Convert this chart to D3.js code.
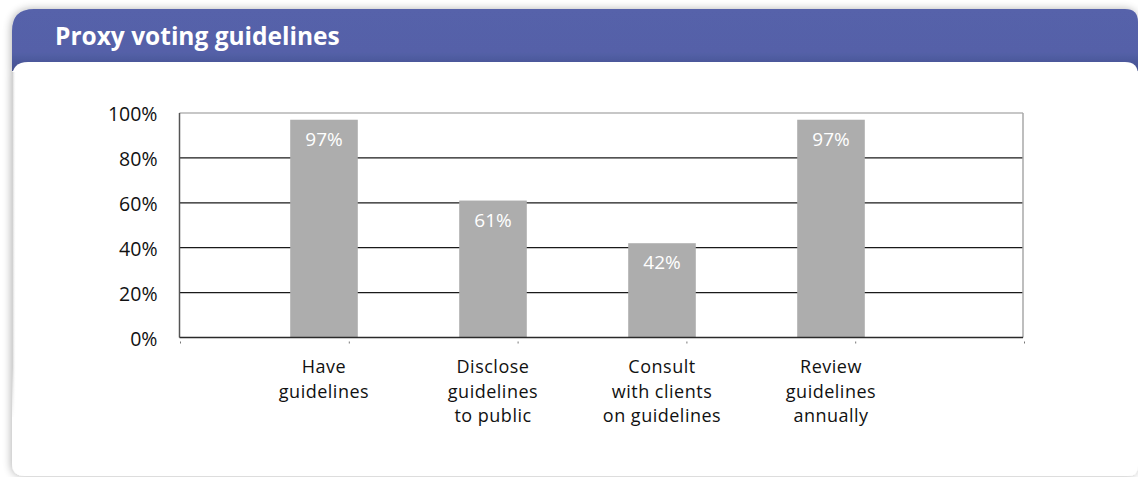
<!DOCTYPE html>
<html>
<head>
<meta charset="utf-8">
<script src="https://cdn.jsdelivr.net/npm/d3@7"></script>
<style>
  html, body { margin: 0; padding: 0; background: #ffffff; }
  svg { display: block; }
</style>
</head>
<body>
<svg id="chart" width="1138" height="477"></svg>
<script>
// Survey answers on proxy voting guidelines
const categories = [
  ["Have", "guidelines"],
  ["Disclose", "guidelines", "to public"],
  ["Consult", "with clients", "on guidelines"],
  ["Review", "guidelines", "annually"]
];
const values = [97, 61, 42, 97];
const yTicks = [0, 20, 40, 60, 80, 100];
const title = "Proxy voting guidelines";

const svg = d3.select("#chart");
const font = "'Open Sans', 'Noto Sans', sans-serif";

const defs = svg.append("defs");

// soft shadow around the card
const shadow = defs.append("filter").attr("id", "cardShadow")
  .attr("x", "-5%").attr("y", "-10%").attr("width", "110%").attr("height", "120%");
shadow.append("feGaussianBlur").attr("in", "SourceAlpha").attr("stdDeviation", 4);
shadow.append("feOffset").attr("dx", -1).attr("dy", 0).attr("result", "b");
shadow.append("feComponentTransfer").append("feFuncA").attr("type", "linear").attr("slope", 0.3);
const merge = shadow.append("feMerge");
merge.append("feMergeNode");
merge.append("feMergeNode").attr("in", "SourceGraphic");

// header band shading
const hg = defs.append("linearGradient").attr("id", "headGrad")
  .attr("x1", 0).attr("y1", 0).attr("x2", 0).attr("y2", 1);
hg.append("stop").attr("offset", "0%").attr("stop-color", "#5662aa");
hg.append("stop").attr("offset", "70%").attr("stop-color", "#5461a8");
hg.append("stop").attr("offset", "100%").attr("stop-color", "#444f8e");

// inner shade along the left edge of the panel
const lg = defs.append("linearGradient").attr("id", "leftShade")
  .attr("x1", 0).attr("y1", 0).attr("x2", 1).attr("y2", 0);
lg.append("stop").attr("offset", "0%").attr("stop-color", "#c4c4c4");
lg.append("stop").attr("offset", "100%").attr("stop-color", "#ffffff").attr("stop-opacity", 0);
const lgv = defs.append("linearGradient").attr("id", "leftFade")
  .attr("x1", 0).attr("y1", 0).attr("x2", 0).attr("y2", 1);
lgv.append("stop").attr("offset", "0%").attr("stop-color", "#fff").attr("stop-opacity", 1);
lgv.append("stop").attr("offset", "85%").attr("stop-color", "#fff").attr("stop-opacity", 1);
lgv.append("stop").attr("offset", "100%").attr("stop-color", "#fff").attr("stop-opacity", 0);
defs.append("mask").attr("id", "leftMask")
  .append("rect").attr("x", 0).attr("y", 70).attr("width", 30).attr("height", 350)
  .attr("fill", "url(#leftFade)");

// rounded rectangle path with individual corner radii
function roundRect(x, y, w, h, tl, tr, br, bl) {
  return `M${x + tl},${y}H${x + w - tr}Q${x + w},${y} ${x + w},${y + tr}` +
    `V${y + h - br}Q${x + w},${y + h} ${x + w - br},${y + h}` +
    `H${x + bl}Q${x},${y + h} ${x},${y + h - bl}` +
    `V${y + tl}Q${x},${y} ${x + tl},${y}Z`;
}

const card = svg.append("g").attr("filter", "url(#cardShadow)");
// header band
card.append("path")
  .attr("d", roundRect(12, 9, 1126, 62, 22, 13, 0, 0))
  .attr("fill", "url(#headGrad)");
// white panel
card.append("path")
  .attr("d", roundRect(12, 62, 1126, 414, 16, 13, 10, 13))
  .attr("fill", "#ffffff");

svg.append("rect")
  .attr("x", 12).attr("y", 72).attr("width", 4).attr("height", 345)
  .attr("fill", "url(#leftShade)")
  .attr("mask", "url(#leftMask)");

svg.append("text")
  .attr("x", 55).attr("y", 45)
  .attr("fill", "#ffffff")
  .attr("font-family", font)
  .attr("font-weight", 700)
  .attr("font-size", 24.5)
  .text(title);

// plot geometry
const plot = { left: 179.5, right: 1023, top: 113, bottom: 337.5 };

const y = d3.scaleLinear().domain([0, 100]).range([plot.bottom, plot.top]);

const x = d3.scaleBand()
  .domain(d3.range(categories.length))
  .range([239.5, 915.5])
  .paddingInner(0.6)
  .paddingOuter(0.3);

// category slot boundaries used for the small tick marks
const slot = d3.scaleLinear().domain([0, 5]).range([180, 1024]);

const g = svg.append("g");

// horizontal gridlines
g.selectAll("line.grid")
  .data(yTicks.filter(t => t > 0 && t < 100))
  .join("line")
  .attr("class", "grid")
  .attr("x1", plot.left).attr("x2", plot.right)
  .attr("y1", d => y(d)).attr("y2", d => y(d))
  .attr("stroke", "#1a1a1a").attr("stroke-width", 1.3);

// frame: top and right in grey, left darker
g.append("line")
  .attr("x1", plot.left).attr("x2", plot.right)
  .attr("y1", y(100)).attr("y2", y(100))
  .attr("stroke", "#8f8f8f").attr("stroke-width", 1.2);
g.append("line")
  .attr("x1", plot.right).attr("x2", plot.right)
  .attr("y1", y(100)).attr("y2", y(0))
  .attr("stroke", "#a8a8a8").attr("stroke-width", 1.5);
g.append("line")
  .attr("x1", plot.left).attr("x2", plot.left)
  .attr("y1", y(100)).attr("y2", y(0))
  .attr("stroke", "#555555").attr("stroke-width", 1.5);

// bars
g.selectAll("rect.bar")
  .data(values)
  .join("rect")
  .attr("class", "bar")
  .attr("x", (d, i) => x(i))
  .attr("width", x.bandwidth())
  .attr("y", d => y(d))
  .attr("height", d => y(0) - y(d))
  .attr("fill", "#adadad");

// baseline
g.append("line")
  .attr("x1", plot.left).attr("x2", plot.right)
  .attr("y1", y(0)).attr("y2", y(0))
  .attr("stroke", "#2a2a2a").attr("stroke-width", 1.6);

// value labels inside the bars
g.selectAll("text.val")
  .data(values)
  .join("text")
  .attr("class", "val")
  .attr("x", (d, i) => x(i) + x.bandwidth() / 2)
  .attr("y", d => y(d) + 26)
  .attr("text-anchor", "middle")
  .attr("fill", "#ffffff")
  .attr("font-family", font)
  .attr("font-size", 19)
  .text(d => d + "%");

// y axis labels
const yAxis = d3.axisLeft(y)
  .tickValues(yTicks)
  .tickFormat(d => d + "%")
  .tickSize(0)
  .tickPadding(22);
const ya = svg.append("g")
  .attr("transform", `translate(${plot.left},0)`)
  .call(yAxis);
ya.select(".domain").remove();
ya.selectAll("text")
  .attr("font-family", font)
  .attr("font-size", 19.5)
  .attr("dy", "0.4em")
  .attr("fill", "#111111");

// small tick marks below the baseline
const xTicks = d3.axisBottom(slot)
  .tickValues(d3.range(6))
  .tickFormat("")
  .tickSize(2);
const xa = svg.append("g")
  .attr("transform", `translate(0,${plot.bottom + 4})`)
  .call(xTicks);
xa.select(".domain").remove();
xa.selectAll("line").attr("stroke", "#777777");

// category labels: each line is its own text element
const catLines = categories.flatMap((lines, i) => lines.map((line, j) => ({ line, i, j })));
svg.append("g").selectAll("text.cat")
  .data(catLines)
  .join("text")
  .attr("class", "cat")
  .attr("text-anchor", "middle")
  .attr("font-family", font)
  .attr("font-size", 18)
  .attr("letter-spacing", 0.5)
  .attr("fill", "#111111")
  .attr("x", d => x(d.i) + x.bandwidth() / 2)
  .attr("y", d => 373 + d.j * 24.6)
  .text(d => d.line);
</script>
</body>
</html>
